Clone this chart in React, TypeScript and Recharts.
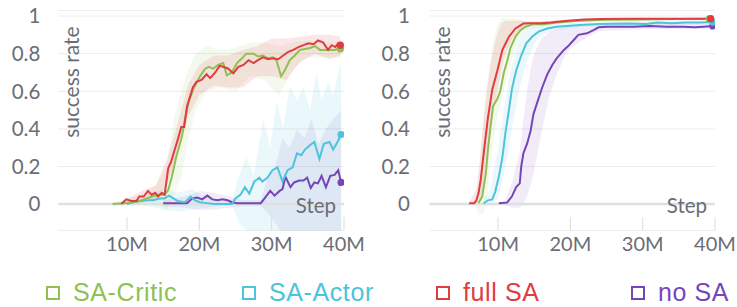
import { Area, ComposedChart, Label, Line, ReferenceLine, XAxis, YAxis, CartesianGrid } from 'recharts';

type Pt = [number, number];
type Band = [number, number, number];

const xTicks = [10, 20, 30, 40];
const yTicks = [0, 0.2, 0.4, 0.6, 0.8, 1];
const seriesNames = ['SA-Critic', 'SA-Actor', 'full SA', 'no SA'];
const seriesColors = ['#8fc052', '#4dc3dc', '#e03c41', '#7646b8'];

// left panel: mean curves (step in M, success rate)
const leftCritic: Pt[] = [
  [8, 0], [9.5, 0.005], [10.9, 0.01], [12, 0.02], [12.7, 0.03], [13.5, 0.04], [14.3, 0.05], [15.2, 0.05],
  [15.7, 0.075], [16.2, 0.145], [16.8, 0.25], [17.6, 0.36], [18.0, 0.45], [18.5, 0.54], [19.2, 0.615],
  [20.1, 0.68], [20.8, 0.72], [21.3, 0.73], [21.9, 0.72], [22.6, 0.74], [23.3, 0.75], [23.8, 0.685],
  [24.5, 0.7], [25.2, 0.75], [25.9, 0.775], [26.5, 0.8], [27.5, 0.8], [28.1, 0.785], [28.8, 0.79],
  [29.5, 0.775], [30.2, 0.78], [30.7, 0.76], [31.3, 0.68], [31.8, 0.71], [32.5, 0.765], [33.2, 0.79],
  [33.9, 0.82], [34.6, 0.825], [35.3, 0.83], [36.0, 0.84], [36.7, 0.82], [37.4, 0.82], [38.1, 0.82],
  [38.8, 0.82], [39.2, 0.83], [39.5, 0.825],
];
const leftActor: Pt[] = [
  [10, 0], [10.9, 0.01], [11.7, 0.015], [12.7, 0.02], [13.6, 0.02], [14.5, 0.03], [15.2, 0.03], [15.8, 0.045],
  [16.4, 0.03], [17.1, 0.015], [18.0, 0.01], [18.8, 0.04], [19.4, 0.02], [20.1, 0.01], [21.0, 0.005], [22.0, 0],
  [24.5, 0], [25.0, 0.03], [25.7, 0.05], [26.3, 0.09], [26.9, 0.055], [27.6, 0.12], [28.3, 0.14], [28.7, 0.12],
  [29.4, 0.14], [30.1, 0.18], [30.8, 0.195], [31.5, 0.12], [32.2, 0.18], [32.9, 0.195], [33.5, 0.27],
  [34.1, 0.26], [34.6, 0.29], [35.2, 0.31], [35.9, 0.33], [36.6, 0.24], [37.2, 0.32], [38.0, 0.33],
  [38.5, 0.29], [39.1, 0.33], [39.6, 0.37],
];
const leftFull: Pt[] = [
  [9.2, 0], [9.9, 0.025], [10.6, 0.016], [11.3, 0.016], [11.7, 0.04], [12.3, 0.04], [12.9, 0.07], [13.4, 0.05],
  [13.9, 0.06], [14.3, 0.04], [14.8, 0.06], [15.2, 0.05], [15.7, 0.19], [16.1, 0.225], [16.6, 0.29], [17.0, 0.34],
  [17.5, 0.41], [17.9, 0.41], [18.3, 0.52], [18.7, 0.57], [19.1, 0.62], [19.6, 0.65], [20.3, 0.66], [21.0, 0.69],
  [21.5, 0.67], [22.2, 0.7], [22.8, 0.735], [23.3, 0.73], [24.0, 0.72], [24.7, 0.695], [25.4, 0.73],
  [26.1, 0.74], [26.8, 0.765], [27.5, 0.75], [28.1, 0.765], [28.8, 0.78], [29.5, 0.77], [30.2, 0.775],
  [30.9, 0.77], [31.6, 0.79], [32.3, 0.81], [33.0, 0.82], [33.7, 0.835], [34.4, 0.845], [35.1, 0.855],
  [35.8, 0.85], [36.4, 0.87], [37.1, 0.86], [37.8, 0.82], [38.3, 0.845], [38.8, 0.835], [39.2, 0.855], [39.5, 0.845],
];
const leftNone: Pt[] = [
  [15, 0.005], [16.9, 0.005], [18.3, 0.005], [19.0, 0.03], [19.7, 0.035], [20.4, 0.025], [21.1, 0.045],
  [21.8, 0.025], [22.5, 0.02], [23.2, 0.025], [23.9, 0.02], [24.5, 0.01], [25.2, 0.005], [28.5, 0.005],
  [29.2, 0.04], [29.8, 0.07], [30.4, 0.045], [31.1, 0.07], [31.5, 0.08], [31.9, 0.145], [32.6, 0.09],
  [33.1, 0.115], [33.8, 0.125], [34.4, 0.125], [34.9, 0.14], [35.4, 0.085], [35.9, 0.115], [36.4, 0.11],
  [36.9, 0.15], [37.5, 0.09], [38.1, 0.15], [38.7, 0.155], [39.2, 0.18], [39.6, 0.115],
];

// left panel: shaded spread (step, low, high)
const leftCriticBand: Band[] = [
  [8, -0.01, 0.01], [12, 0, 0.05], [14, 0, 0.1], [15.5, -0.03, 0.2], [16.5, 0.05, 0.45], [17.5, 0.15, 0.6],
  [18.5, 0.35, 0.72], [19.5, 0.5, 0.8], [21, 0.6, 0.84], [23, 0.62, 0.82], [25, 0.6, 0.83], [27, 0.68, 0.86],
  [29, 0.66, 0.86], [31, 0.58, 0.84], [33, 0.72, 0.86], [35, 0.78, 0.87], [37, 0.78, 0.86], [39.5, 0.78, 0.87],
];
const leftActorBand: Band[] = [
  [10, 0, 0], [13, -0.01, 0.04], [15, -0.03, 0.08], [17, -0.04, 0.06], [19, -0.03, 0.08], [21, -0.02, 0.03],
  [24.5, 0, 0.02], [25.5, -0.1, 0.15], [26.5, -0.14, 0.25], [27.5, -0.15, 0.15], [28.8, -0.16, 0.45],
  [29.8, -0.16, 0.3], [30.7, -0.16, 0.55], [31.6, -0.16, 0.4], [32.5, -0.16, 0.63], [33.5, -0.16, 0.55],
  [34.4, -0.16, 0.62], [35.3, -0.16, 0.5], [36.2, -0.16, 0.7], [36.9, -0.16, 0.55], [37.8, -0.16, 0.65],
  [38.5, -0.16, 0.58], [39.6, -0.16, 0.76],
];
const leftFullBand: Band[] = [
  [9, 0, 0], [10, 0, 0.03], [12, 0.01, 0.07], [14, 0.02, 0.1], [15.5, 0.1, 0.24], [16.5, 0.2, 0.36],
  [17.5, 0.33, 0.5], [18.5, 0.47, 0.64], [20, 0.58, 0.74], [22, 0.63, 0.79], [24, 0.62, 0.79], [26, 0.62, 0.82],
  [28, 0.68, 0.84], [30, 0.68, 0.88], [32, 0.66, 0.88], [34, 0.76, 0.89], [36, 0.8, 0.9], [38, 0.77, 0.9],
  [39.5, 0.79, 0.89],
];
const leftNoneBand: Band[] = [
  [15, -0.01, 0.02], [18, -0.02, 0.04], [20, -0.03, 0.07], [22, -0.03, 0.06], [24, -0.02, 0.04], [26, -0.01, 0.02],
  [28.5, -0.01, 0.02], [29.5, -0.05, 0.15], [30.5, -0.1, 0.2], [31.5, -0.16, 0.35], [32.5, -0.16, 0.3],
  [33.5, -0.16, 0.4], [34.5, -0.16, 0.35], [35.5, -0.16, 0.45], [36.5, -0.16, 0.32], [37.5, -0.16, 0.4],
  [38.5, -0.16, 0.45], [39.6, -0.16, 0.5],
];

// right panel: mean curves
const rightCritic: Pt[] = [
  [7.3, 0.005], [7.8, 0.04], [8.3, 0.16], [8.6, 0.29], [8.95, 0.41], [9.3, 0.52], [9.9, 0.56], [10.3, 0.6],
  [10.8, 0.7], [11.25, 0.76], [11.7, 0.83], [12.4, 0.89], [13.1, 0.925], [13.8, 0.943], [14.9, 0.957],
  [16.3, 0.957], [18.1, 0.965], [21.3, 0.975], [25, 0.98], [30, 0.982], [35, 0.984], [39.2, 0.985],
];
const rightActor: Pt[] = [
  [8.0, 0.003], [8.6, 0.02], [9.2, 0.025], [9.6, 0.065], [10.1, 0.145], [10.6, 0.25], [11.0, 0.375], [11.5, 0.5],
  [11.9, 0.61], [12.5, 0.71], [13.2, 0.79], [13.9, 0.855], [14.7, 0.89], [15.6, 0.917], [16.8, 0.934],
  [18.1, 0.943], [19.5, 0.947], [21.3, 0.953], [24, 0.958], [28, 0.96], [30.5, 0.958], [32, 0.965],
  [34, 0.962], [36, 0.965], [38, 0.966], [39.7, 0.968],
];
const rightFull: Pt[] = [
  [6.0, 0.005], [6.7, 0.005], [7.0, 0.02], [7.3, 0.06], [7.6, 0.13], [8.1, 0.3], [8.6, 0.46], [9.2, 0.61],
  [9.9, 0.71], [10.6, 0.82], [11.5, 0.89], [12.4, 0.934], [13.5, 0.96], [14.5, 0.962], [15.9, 0.962],
  [17.3, 0.966], [19.6, 0.975], [21.9, 0.982], [24.2, 0.984], [28, 0.985], [32, 0.985], [36, 0.986], [39.4, 0.986],
];
const rightNone: Pt[] = [
  [10.1, 0.005], [11.25, 0.008], [11.9, 0.04], [12.5, 0.09], [13.0, 0.11], [13.2, 0.2], [13.5, 0.27], [14.0, 0.32],
  [14.5, 0.39], [14.9, 0.48], [15.5, 0.55], [16.1, 0.62], [16.8, 0.69], [17.5, 0.74], [18.1, 0.775], [19.1, 0.82],
  [19.7, 0.84], [20.4, 0.87], [21.1, 0.9], [22.3, 0.908], [23.2, 0.925], [23.9, 0.94], [25.1, 0.943],
  [28.7, 0.943], [31.0, 0.947], [33.3, 0.943], [35.6, 0.943], [37.2, 0.94], [38.4, 0.943], [39.7, 0.947],
];

// right panel: shaded spread
const rightCriticBand: Band[] = [
  [7, -0.03, 0.03], [7.5, -0.06, 0.2], [8, -0.05, 0.48], [8.5, 0.05, 0.65], [9, 0.25, 0.78], [9.5, 0.38, 0.9],
  [10, 0.48, 0.96], [10.5, 0.55, 0.99], [11, 0.65, 0.99], [12, 0.78, 0.985], [13, 0.88, 0.98], [14, 0.93, 0.975],
  [16, 0.945, 0.972], [20, 0.965, 0.98], [25, 0.975, 0.985], [39.2, 0.98, 0.99],
];
const rightActorBand: Band[] = [
  [8, -0.01, 0.02], [9, -0.01, 0.08], [10, 0.03, 0.3], [10.5, 0.1, 0.42], [11, 0.2, 0.55], [11.5, 0.3, 0.66],
  [12, 0.42, 0.75], [12.5, 0.52, 0.82], [13, 0.62, 0.88], [14, 0.76, 0.93], [15, 0.85, 0.95], [16, 0.9, 0.96],
  [18, 0.925, 0.96], [22, 0.945, 0.965], [30, 0.95, 0.97], [39.7, 0.955, 0.975],
];
const rightFullBand: Band[] = [
  [6, 0, 0.01], [7, -0.01, 0.08], [7.5, 0.02, 0.25], [8, 0.1, 0.45], [8.5, 0.25, 0.62], [9, 0.4, 0.75],
  [9.5, 0.52, 0.85], [10, 0.62, 0.92], [10.5, 0.72, 0.96], [11, 0.8, 0.975], [12, 0.88, 0.975], [13, 0.93, 0.975],
  [14, 0.95, 0.972], [16, 0.955, 0.972], [20, 0.97, 0.98], [25, 0.978, 0.99], [39.4, 0.98, 0.99],
];
const rightNoneBand: Band[] = [
  [11, -0.005, 0.02], [12, -0.02, 0.12], [13, -0.02, 0.28], [13.5, 0, 0.45], [14, 0.04, 0.6], [14.5, 0.1, 0.72],
  [15, 0.18, 0.8], [16, 0.38, 0.88], [17, 0.56, 0.91], [18, 0.68, 0.93], [19, 0.77, 0.94], [20, 0.83, 0.95],
  [22, 0.88, 0.955], [24, 0.92, 0.96], [30, 0.93, 0.96], [39.7, 0.93, 0.96],
];

const axisText = '#6b6d76';
const axisFont = 'Lato, "Noto Sans", sans-serif';
const bandOpacity = [0.1, 0.11, 0.12, 0.1];
// draw order back-to-front: no SA, SA-Actor, SA-Critic, full SA
const drawOrder = [3, 1, 0, 2];

type PanelProps = {
  lines: Pt[][];
  bands: Band[][];
  marginLeft: number;
  marginRight: number;
  labelGap: number;
};

function Panel({ lines, bands, marginLeft, marginRight, labelGap }: PanelProps) {
  return (
    <ComposedChart
      width={370}
      height={262}
      margin={{ top: 10.4, right: marginRight, bottom: 1.6, left: marginLeft }}
    >
      <CartesianGrid vertical={false} stroke="#ececec" />
      <XAxis
        type="number"
        dataKey="x"
        domain={[0.5, 40]}
        ticks={xTicks}
        tickFormatter={(v) => `${v}M`}
        axisLine={false}
        tickLine={false}
        tickSize={0}
        tickMargin={6}
        height={30}
        allowDataOverflow
        tick={{ fill: axisText, fontSize: 20, fontFamily: axisFont }}
      >
        <Label
          content={(p: any) => (
            <text
              x={p.viewBox.x + p.viewBox.width - 8}
              y={p.viewBox.y - 17}
              textAnchor="end"
              fill={axisText}
              fontSize={20.5}
              fontFamily={axisFont}
            >
              Step
            </text>
          )}
        />
      </XAxis>
      <YAxis
        type="number"
        domain={[-0.14, 1.03]}
        ticks={yTicks}
        allowDataOverflow
        axisLine={false}
        tickLine={false}
        tickSize={0}
        tickMargin={labelGap}
        width={50}
        tick={{ fill: axisText, fontSize: 20.5, fontFamily: axisFont }}
      >
        <Label
          content={(p: any) => {
            const x = p.viewBox.x + p.viewBox.width + 21;
            const y = p.viewBox.y + 16;
            return (
              <text
                x={x}
                y={y}
                transform={`rotate(-90 ${x} ${y})`}
                textAnchor="end"
                fill={axisText}
                fontSize={21}
                fontFamily={axisFont}
              >
                success rate
              </text>
            );
          }}
        />
      </YAxis>
      <ReferenceLine y={0} stroke="#e0e0e0" strokeWidth={2.5} />
      {xTicks.map((t) => (
        <ReferenceLine
          key={`tick-${t}`}
          segment={[{ x: t, y: -0.14 }, { x: t, y: -0.069 }]}
          stroke="#dddddd"
          strokeWidth={1}
        />
      ))}
      {drawOrder.map((i) => (
        <Area
          key={`band-${i}`}
          data={bands[i].map(([x, lo, hi]) => ({ x, range: [lo, hi] }))}
          dataKey="range"
          type="linear"
          stroke="none"
          fill={seriesColors[i]}
          fillOpacity={bandOpacity[i]}
          isAnimationActive={false}
        />
      ))}
      {drawOrder.map((i) => {
        const last = lines[i].length - 1;
        return (
          <Line
            key={`line-${i}`}
            data={lines[i].map(([x, y]) => ({ x, y }))}
            dataKey="y"
            type="linear"
            stroke={seriesColors[i]}
            strokeWidth={2}
            isAnimationActive={false}
            dot={(p: any) =>
              p.index === last ? (
                <circle key={`dot-${i}`} cx={p.cx} cy={p.cy} r={3.6} fill={seriesColors[i]} />
              ) : (
                <g key={`nodot-${i}-${p.index}`} />
              )
            }
            activeDot={false}
          />
        );
      })}
    </ComposedChart>
  );
}

const legendLeft = [46, 242, 436, 631];

function Legend() {
  return (
    <div style={{ position: 'absolute', left: 0, top: 277, width: 737, height: 31 }}>
      {seriesNames.map((name, i) => (
        <div
          key={name}
          style={{
            position: 'absolute',
            left: legendLeft[i],
            top: 0,
            display: 'flex',
            alignItems: 'center',
            height: 31,
            color: seriesColors[i],
            fontFamily: '"Liberation Sans", Arial, sans-serif',
            fontSize: 25,
            letterSpacing: 0.6,
            whiteSpace: 'nowrap',
          }}
        >
          <span
            style={{
              display: 'inline-block',
              width: 10,
              height: 10,
              border: `2px solid ${seriesColors[i]}`,
              marginRight: 13,
            }}
          />
          {name}
        </div>
      ))}
    </div>
  );
}

export default function App() {
  return (
    <div style={{ position: 'absolute', left: 0, top: 0, width: 737, height: 307, background: '#fff' }}>
      <div style={{ position: 'absolute', left: 0, top: 0 }}>
        <Panel
          lines={[leftCritic, leftActor, leftFull, leftNone]}
          bands={[leftCriticBand, leftActorBand, leftFullBand, leftNoneBand]}
          marginLeft={8.3}
          marginRight={26}
          labelGap={18}
        />
      </div>
      <div style={{ position: 'absolute', left: 367, top: 0 }}>
        <Panel
          lines={[rightCritic, rightActor, rightFull, rightNone]}
          bands={[rightCriticBand, rightActorBand, rightFullBand, rightNoneBand]}
          marginLeft={12.4}
          marginRight={22}
          labelGap={19.4}
        />
      </div>
      <Legend />
    </div>
  );
}
